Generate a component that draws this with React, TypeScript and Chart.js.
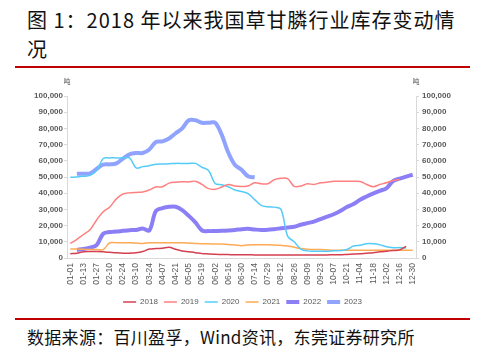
import React, { useEffect, useRef } from "react";
import { Chart, registerables } from "chart.js";

Chart.register(...registerables);

const categories = [
  "01-01", "01-06", "01-13", "01-20", "01-27", "02-03", "02-10", "02-17", "02-24",
  "03-03", "03-10", "03-17", "03-24", "03-31", "04-07", "04-14", "04-21", "04-28",
  "05-05", "05-12", "05-19", "05-26", "06-02", "06-09", "06-16", "06-23", "06-30",
  "07-07", "07-14", "07-21", "07-29", "08-05", "08-12", "08-19", "08-26",
  "09-02", "09-09", "09-16", "09-23", "09-30", "10-07", "10-14", "10-21", "10-28",
  "11-04", "11-11", "11-18", "11-25", "12-02", "12-09", "12-16", "12-23", "12-30",
];

const years = ["2018", "2019", "2020", "2021", "2022", "2023"];

const s2018 = [
  2600, 3000, 3800, 4000, 4000, 3800, 3500, 3200, 3000, 3000, 3200, 4000, 5500, 5800,
  6000, 6600, 5400, 4300, 3800, 3300, 2700, 2500, 2300, 2200, 2100, 2000, 2000, 2000,
  1900, 1900, 1800, 1800, 1800, 1800, 1800, 1800, 1800, 1800, 1900, 1900, 2000, 2000,
  2200, 2400, 2600, 3000, 3300, 3800, 4200, 4600, 5000, 7200, null,
];

const s2019 = [
  9000, 11500, 14500, 17500, 23500, 28500, 31500, 36500, 39500, 40200, 40500, 40800,
  42000, 43800, 44000, 46200, 46800, 47000, 47000, 47400, 45400, 42800, 42400, 43800,
  45400, 44400, 44200, 44400, 46400, 45800, 45800, 48400, 49200, 49000, 44200, 44400,
  45800, 45400, 46400, 46800, 47400, 47400, 47400, 47400, 47200, 45400, 44000, 45400,
  46400, 47800, 48500, null, null,
];

const s2020 = [
  49800, 50000, 50400, 51000, 54000, 61400, 61800, 61800, 61800, 61800, 55600, 56400,
  57000, 57800, 58000, 58200, 58400, 58400, 58400, 58400, 56000, 54000, 46000, 45200,
  44000, 42000, 41000, 39800, 36000, 32500, 31600, 31400, 30000, 13500, 10000, 5500,
  4400, 4200, 4200, 4200, 4400, 4600, 5200, 7400, 7800, 8800, 8800, 8200, 7000, 6400,
  6400, 6200, null,
];

const s2021 = [
  5600, 5600, 5400, 5200, 5200, 5200, 9400, 9400, 9400, 9400, 9200, 9000, 9400, 9400,
  9400, 9400, 9400, 9400, 9200, 9000, 8800, 8800, 8600, 8600, 8400, 8000, 7600, 8000,
  8200, 8200, 8200, 8000, 7800, 7400, 6600, 5800, 5400, 5200, 5200, 5000, 4800, 4800,
  4800, 4800, 4800, 4800, 4800, 4800, 4800, 4800, 4800, 4800, 4800,
];

const s2022 = [
  null, 5000, 5600, 6400, 8000, 15000, 16000, 16300, 16800, 17200, 17300, 18200, 17000,
  29000, 30800, 31600, 31600, 29500, 26000, 22000, 17000, 16600, 16700, 16800, 17000,
  17300, 17800, 18000, 17600, 17300, 17400, 17800, 18300, 18800, 19300, 20500, 21500,
  22500, 24000, 25500, 27000, 29000, 31500, 33300, 36000, 38000, 39800, 41500, 43000,
  47500, 49000, 50200, 51400,
];

const s2023 = [
  null, 52000, 52000, 52200, 55000, 57600, 57800, 58400, 61400, 64000, 64800, 64800,
  67000, 71600, 72000, 73800, 77000, 80000, 85000, 85000, 83500, 83500, 83500, 76000,
  65000, 57500, 54500, 50400, 49800,
];

const series = [s2018, s2019, s2020, s2021, s2022, s2023];
const colors = ["#D4404F", "#FF8080", "#55CCF8", "#FFAA55", "#8C7FF6", "#8FA3FF"];
const widths = [1.5, 1.5, 1.5, 1.5, 4, 4];

const FONT = '"Liberation Sans", Arial, sans-serif';
const CJK = '"Noto Sans CJK SC", sans-serif';

export default function App() {
  const ref = useRef<HTMLCanvasElement>(null);

  useEffect(() => {
    const unitPlugin = {
      id: "unitLabels",
      afterDraw(chart: any) {
        const ctx = chart.ctx;
        const top = chart.chartArea.top;
        ctx.save();
        ctx.font = '7px ' + CJK;
        ctx.fillStyle = "#595959";
        ctx.textAlign = "center";
        ctx.textBaseline = "middle";
        ctx.fillText("吨", chart.scales.y.right, top - 15);
        ctx.fillText("吨", chart.scales.y1.left, top - 15);
        ctx.restore();
      },
    };

    const chart = new Chart(ref.current!, {
      type: "line",
      data: {
        labels: categories,
        datasets: years.map((y, i) => ({
          label: y,
          data: series[i],
          borderColor: colors[i],
          backgroundColor: colors[i],
          borderWidth: widths[i],
          pointRadius: 0,
          tension: 0.35,
          fill: false,
          yAxisID: "y",
        })),
      },
      options: {
        animation: false,
        responsive: false,
        maintainAspectRatio: false,
        layout: { padding: { top: 24, left: 0, right: 0, bottom: 0 } },
        plugins: {
          tooltip: { enabled: false },
          legend: {
            position: "bottom",
            labels: {
              usePointStyle: true,
              pointStyle: "line",
              pointStyleWidth: 13,
              boxWidth: 13,
              padding: 6,
              color: "#595959",
              font: { size: 8, family: FONT },
            },
          },
        },
        scales: {
          x: {
            type: "category",
            offset: true,
            grid: { display: false, drawTicks: false },
            border: { display: true, color: "#D9D9D9", width: 1 },
            ticks: {
              autoSkip: false,
              maxRotation: 90,
              minRotation: 90,
              padding: 5,
              color: "#595959",
              font: { size: 8.5, family: FONT },
              callback: (_v: any, i: number) => (i % 2 === 0 ? categories[i] : ""),
            },
            afterFit: (s: any) => {
              s.height = 34;
            },
          },
          y: {
            type: "linear",
            position: "left",
            min: 0,
            max: 100000,
            grid: { drawOnChartArea: false, tickLength: 3, color: "#D9D9D9" },
            border: { display: true, color: "#D9D9D9" },
            ticks: {
              stepSize: 5000,
              padding: 1,
              color: "#595959",
              font: { size: 8, weight: "bold", family: FONT },
              callback: (v: any) =>
                Number(v) % 10000 === 0 ? Number(v).toLocaleString("en-US") : "",
            },
            afterFit: (s: any) => {
              s.width = 52;
            },
          },
          y1: {
            type: "linear",
            position: "right",
            min: 0,
            max: 100000,
            grid: { drawOnChartArea: false, tickLength: 3, color: "#D9D9D9" },
            border: { display: true, color: "#D9D9D9" },
            ticks: {
              stepSize: 5000,
              padding: 3,
              color: "#595959",
              font: { size: 8, weight: "bold", family: FONT },
              callback: (v: any) =>
                Number(v) % 10000 === 0 ? Number(v).toLocaleString("en-US") : "",
            },
            afterFit: (s: any) => {
              s.width = 54;
            },
          },
        },
      } as any,
      plugins: [unitPlugin],
    });
    return () => chart.destroy();
  }, []);

  return (
    <div
      style={{
        position: "fixed",
        left: 0,
        top: 0,
        width: 484,
        height: 356,
        background: "#fff",
        overflow: "hidden",
      }}
    >
      <div
        style={{
          position: "absolute",
          left: 27,
          top: 5,
          fontSize: 20,
          lineHeight: "29px",
          letterSpacing: 1,
          fontFamily: CJK,
          color: "#111",
          whiteSpace: "nowrap",
        }}
      >
        图 1：2018 年以来我国草甘膦行业库存变动情
        <br />况
      </div>
      <div
        style={{ position: "absolute", left: 15, top: 66, width: 455, height: 2, background: "#C00000" }}
      />
      <canvas
        ref={ref}
        width={455}
        height={244}
        style={{ position: "absolute", left: 15, top: 72, width: 455, height: 244 }}
      />
      <div
        style={{ position: "absolute", left: 15, top: 318, width: 455, height: 2, background: "#C00000" }}
      />
      <div
        style={{
          position: "absolute",
          left: 27,
          top: 327,
          fontSize: 17,
          lineHeight: "20px",
          letterSpacing: 0.3,
          fontFamily: CJK,
          color: "#111",
          whiteSpace: "nowrap",
        }}
      >
        数据来源：百川盈孚，Wind资讯，东莞证券研究所
      </div>
    </div>
  );
}
